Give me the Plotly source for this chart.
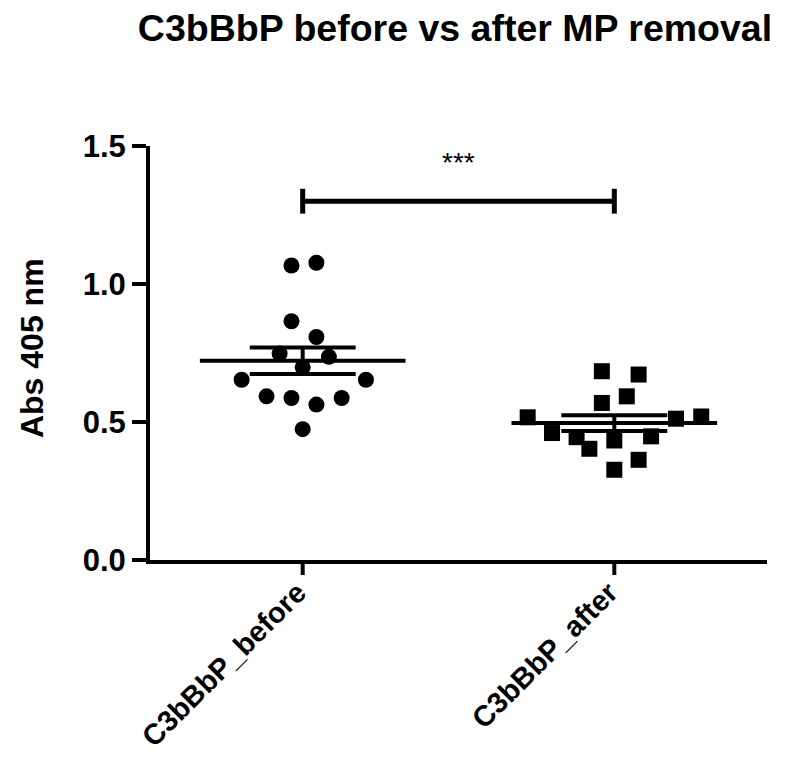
import numpy as np
import plotly.graph_objects as go

# ---- data ----
categories = ["C3bBbP_before", "C3bBbP_after"]
before_vals = [1.067, 1.077, 0.865, 0.808, 0.748, 0.736, 0.698, 0.653, 0.653,
               0.593, 0.587, 0.563, 0.587, 0.474]
before_jitter = [-0.036, 0.044, -0.036, 0.044, -0.074, 0.084, 0.0, -0.196, 0.203,
                 -0.116, -0.036, 0.044, 0.125, 0.0]
after_vals = [0.684, 0.672, 0.593, 0.569, 0.517, 0.512, 0.520, 0.460, 0.445,
              0.433, 0.448, 0.403, 0.363, 0.327]
after_jitter = [-0.040, 0.078, 0.040, -0.040, -0.278, 0.198, 0.279, -0.200, -0.121,
                0.0, 0.118, -0.080, 0.078, 0.0]
y_ticks = [0.0, 0.5, 1.0, 1.5]
sig_y = 1.3
sig_text = "***"

FONT = "Arial, Liberation Sans, sans-serif"
W, H = 780, 751  # page adds an 8px body margin
PLOT_H = H - 138 - 199
fig = go.Figure()

groups = [(1, before_vals, before_jitter, "circle"), (2, after_vals, after_jitter, "square")]
for pos, vals, jit, sym in groups:
    fig.add_trace(go.Scatter(
        x=[pos + j for j in jit], y=vals, mode="markers",
        marker=dict(symbol=sym, size=16, color="black", line=dict(width=0)),
        showlegend=False, hoverinfo="y"))

for pos, vals, jit, sym in groups:
    v = np.array(vals)
    m = v.mean()
    sem = v.std(ddof=1) / np.sqrt(len(v))
    lw = 4
    fig.add_trace(go.Scatter(x=[pos - 0.33, pos + 0.33], y=[m, m], mode="lines",
                             line=dict(color="black", width=lw), showlegend=False, hoverinfo="skip"))
    fig.add_trace(go.Scatter(
        x=[pos - 0.17, pos + 0.17, None, pos - 0.17, pos + 0.17, None, pos, pos],
        y=[m + sem, m + sem, None, m - sem, m - sem, None, m - sem, m + sem],
        mode="lines", line=dict(color="black", width=lw), showlegend=False, hoverinfo="skip"))
    # category tick mark (drawn as a shape so the labels can sit closer)
    fig.add_shape(type="line", xref="x", yref="paper", x0=pos, x1=pos, y0=0, y1=-15 / PLOT_H,
                  line=dict(color="black", width=4))

# significance bracket
fig.add_trace(go.Scatter(
    x=[1, 1, None, 1, 2, None, 2, 2],
    y=[sig_y - 0.045, sig_y + 0.045, None, sig_y, sig_y, None, sig_y - 0.045, sig_y + 0.045],
    mode="lines", line=dict(color="black", width=5), showlegend=False, hoverinfo="skip"))
fig.add_annotation(x=1.5, y=1.44, xref="x", yref="y", text=sig_text, showarrow=False,
                   font=dict(family=FONT, size=28, color="black"), xanchor="center", yanchor="middle")

# y axis title
fig.add_annotation(x=-118 / 617, y=0.512, xref="paper", yref="paper", text="<b>Abs 405 nm</b>",
                   textangle=-90, showarrow=False, xanchor="center", yanchor="middle",
                   font=dict(family=FONT, size=32, color="black"))

fig.update_layout(
    width=W, height=H,
    margin=dict(l=142, r=21, t=138, b=199, autoexpand=False),
    plot_bgcolor="white", paper_bgcolor="white",
    title=dict(text="<b>C3bBbP before vs after MP removal</b>", x=447 / W, xref="container",
               y=1 - 20 / H, yref="container", yanchor="middle", xanchor="center",
               automargin=False,
               font=dict(family=FONT, size=37.5, color="black")),
    xaxis=dict(range=[0.51, 2.49], tickvals=[1, 2], ticktext=categories, tickangle=-45,
               automargin=False, ticklabelshift=-5,
               showline=True, linewidth=4, linecolor="black", ticks="outside", ticklen=0,
               tickwidth=4, tickcolor="rgba(0,0,0,0)", showgrid=False, zeroline=False,
               tickfont=dict(family=FONT, size=29, color="black", weight="bold")),
    yaxis=dict(range=[0, 1.5], tickvals=y_ticks, tickformat=".1f", automargin=False,
               showline=True, linewidth=4, linecolor="black", ticks="outside", ticklen=14,
               tickwidth=4, tickcolor="black", showgrid=False, zeroline=False,
               tickfont=dict(family=FONT, size=31, color="black", weight="bold")),
)

fig.write_html("out.html")
